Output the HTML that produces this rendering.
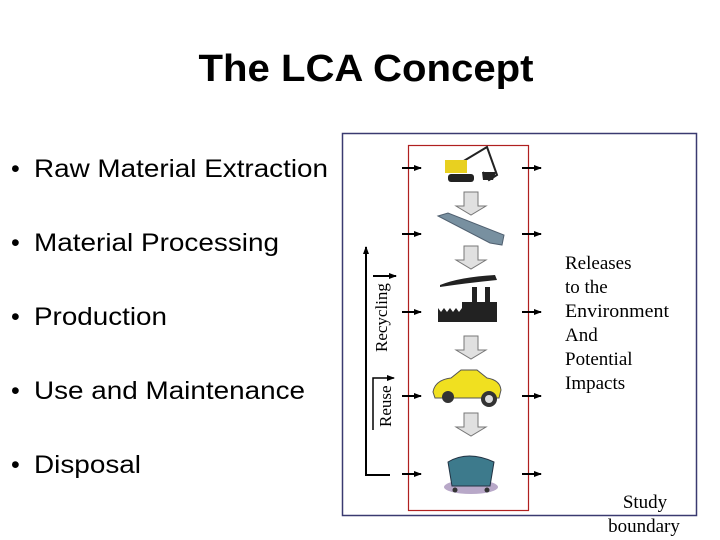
<!DOCTYPE html>
<html><head><meta charset="utf-8"><style>
html,body{margin:0;padding:0;background:#fff;width:720px;height:540px;overflow:hidden}
</style></head><body>
<svg width="720" height="540" xmlns="http://www.w3.org/2000/svg">
<defs>
<marker id="ah" markerWidth="8" markerHeight="8" refX="7" refY="4" orient="auto" markerUnits="userSpaceOnUse"><path d="M0,1 L8,4 L0,7 Z" fill="#000"/></marker>
</defs>
<text x="366" y="81" text-anchor="middle" font-family="Liberation Sans, sans-serif" font-weight="bold" font-size="38" textLength="335" lengthAdjust="spacingAndGlyphs">The LCA Concept</text>
<g font-family="Liberation Sans, sans-serif" font-size="25">
<text x="11" y="177">•</text><text x="34" y="177" textLength="294" lengthAdjust="spacingAndGlyphs">Raw Material Extraction</text>
<text x="11" y="251">•</text><text x="34" y="251" textLength="245" lengthAdjust="spacingAndGlyphs">Material Processing</text>
<text x="11" y="325">•</text><text x="34" y="325" textLength="133" lengthAdjust="spacingAndGlyphs">Production</text>
<text x="11" y="399">•</text><text x="34" y="399" textLength="271" lengthAdjust="spacingAndGlyphs">Use and Maintenance</text>
<text x="11" y="473">•</text><text x="34" y="473" textLength="107" lengthAdjust="spacingAndGlyphs">Disposal</text>
</g>
<rect x="342.5" y="133.5" width="354" height="382" fill="none" stroke="#3a3a70" stroke-width="1.5"/>
<rect x="408.5" y="145.5" width="120" height="365" fill="none" stroke="#b02020" stroke-width="1.2"/>
<path d="M390,475 H366 V247" fill="none" stroke="#000" stroke-width="2" marker-end="url(#ah)"/>
<path d="M373,276 H396" stroke="#000" stroke-width="2" marker-end="url(#ah)"/>
<text transform="translate(387,352) rotate(-90)" font-family="Liberation Serif, serif" font-size="17">Recycling</text>
<path d="M373,430 V378 H394" fill="none" stroke="#000" stroke-width="1.5" marker-end="url(#ah)"/>
<text transform="translate(391,427) rotate(-90)" font-family="Liberation Serif, serif" font-size="17">Reuse</text>
<g stroke="#000" stroke-width="2">
<path d="M402,168 H421" marker-end="url(#ah)"/><path d="M522,168 H541" marker-end="url(#ah)"/>
<path d="M402,234 H421" marker-end="url(#ah)"/><path d="M522,234 H541" marker-end="url(#ah)"/>
<path d="M402,312 H421" marker-end="url(#ah)"/><path d="M522,312 H541" marker-end="url(#ah)"/>
<path d="M402,396 H421" marker-end="url(#ah)"/><path d="M522,396 H541" marker-end="url(#ah)"/>
<path d="M402,474 H421" marker-end="url(#ah)"/><path d="M522,474 H541" marker-end="url(#ah)"/>
</g>
<g fill="#e0e0e0" stroke="#777" stroke-width="1">
<path d="M464,192 h14 v14 h8 l-15,9 l-15,-9 h8 Z"/>
<path d="M464,246 h14 v14 h8 l-15,9 l-15,-9 h8 Z"/>
<path d="M464,336 h14 v14 h8 l-15,9 l-15,-9 h8 Z"/>
<path d="M464,413 h14 v14 h8 l-15,9 l-15,-9 h8 Z"/>
</g>
<g>
<path d="M447,171 l40,-24 l10,28 l-8,5 l-6,-8" fill="none" stroke="#222" stroke-width="2"/>
<rect x="445" y="160" width="22" height="13" fill="#e8d020"/>
<rect x="448" y="174" width="26" height="8" rx="3" fill="#222"/>
<path d="M482,172 h14 l-3,8 h-10 Z" fill="#222"/>
</g>
<path d="M438,216 l10,-3 l56,22 l-2,10 l-12,-2 Z" fill="#7890a0" stroke="#506070"/>
<g fill="#222">
<path d="M440,285 q20,-8 55,-10 l2,5 q-30,3 -57,7 Z"/>
<rect x="472" y="287" width="5" height="16"/><rect x="485" y="287" width="5" height="16"/>
<path d="M438,322 v-14 l3,4 3,-4 3,4 3,-4 3,4 3,-4 3,4 3,-4 v-6 h35 v20 Z"/>
</g>
<g>
<path d="M433,392 q2,-12 18,-14 l10,-8 h16 l10,8 q13,2 14,12 l-2,8 h-64 Z" fill="#f0e020" stroke="#555"/>
<circle cx="448" cy="397" r="6" fill="#333"/><circle cx="489" cy="399" r="8" fill="#333"/><circle cx="489" cy="399" r="4" fill="#ddd"/>
</g>
<g>
<ellipse cx="471" cy="487" rx="27" ry="7" fill="#b8a8c8"/>
<path d="M448,462 q20,-12 46,0 l-4,24 h-38 Z" fill="#3d7a8c" stroke="#234"/>
<circle cx="455" cy="490" r="2.5" fill="#333"/><circle cx="487" cy="490" r="2.5" fill="#333"/>
</g>
<g font-family="Liberation Serif, serif" font-size="19">
<text x="565" y="269">Releases</text>
<text x="565" y="293">to the</text>
<text x="565" y="317" textLength="104" lengthAdjust="spacingAndGlyphs">Environment</text>
<text x="565" y="341">And</text>
<text x="565" y="365">Potential</text>
<text x="565" y="389">Impacts</text>
<text x="645" y="508" text-anchor="middle">Study</text>
<text x="644" y="532" text-anchor="middle">boundary</text>
</g>
</svg>
</body></html>
